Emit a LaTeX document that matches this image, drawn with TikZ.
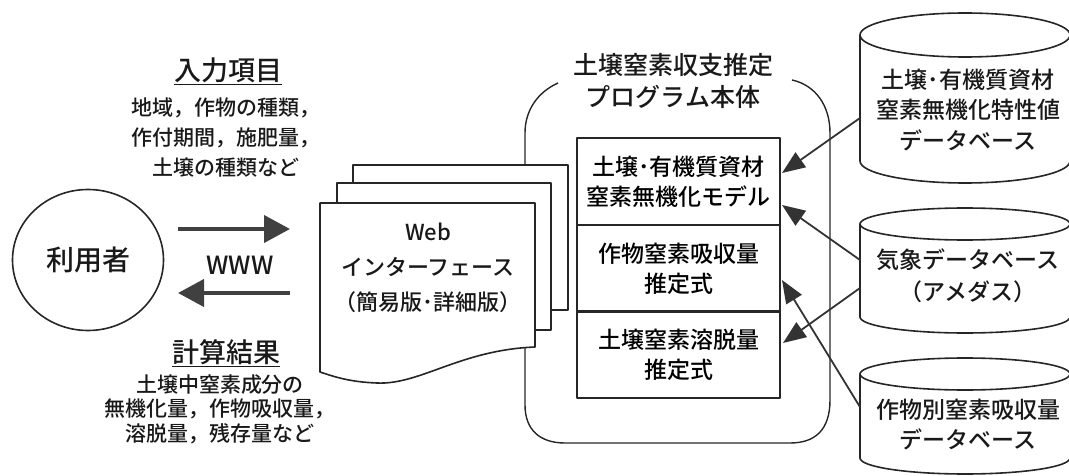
\documentclass[tikz,border=0pt]{standalone}
\usepackage{fontspec}
\setmainfont{Noto Sans CJK JP}[UprightFont={Noto Sans CJK JP Medium}]
\usetikzlibrary{arrows.meta,shapes.geometric}
\newcommand\dbcyl[3]{%
  \draw[outl,fill=white] (860,#1) -- (860,#2) arc[start angle=180,end angle=0,x radius=105,y radius=#3] -- (1070,#1);
  \draw[outl] (965,#1) ellipse[x radius=105,y radius=#3];}
\begin{document}
\begin{tikzpicture}[x=1pt,y=-1pt,line join=round,
  outl/.style={line width=1.6pt,draw=black!85},
  lbl/.style={align=center,inner sep=0pt,text=black!90},
  modbox/.style={outl,minimum width=203pt,minimum height=87pt,inner sep=0pt,align=center,font=\fontsize{23}{30}\selectfont},
  bigarr/.style={line width=4pt,draw=black!75,-{Triangle[length=26pt,width=27pt]}},
  dbarr/.style={line width=1.8pt,draw=black!80,-{Triangle[length=23pt,width=18pt]}}]
\useasboundingbox (0,0) rectangle (1069,476);

% user
\node[outl,ellipse,minimum width=151pt,minimum height=141pt,lbl,font=\fontsize{28}{34}\selectfont] (user) at (88,260) {利用者};

% arrows WWW
\coordinate (ra) at (178,229); \coordinate (rb) at (290,229);
\coordinate (la) at (290,293); \coordinate (lb) at (178,293);
\draw[bigarr] (ra) -- (rb);
\draw[bigarr] (la) -- (lb);
\node[lbl,font=\fontsize{25}{30}\selectfont] (www) at (240,265) {WWW};

% input
\node[lbl,font=\fontsize{27}{32}\selectfont] (inhead) at (228,71) {\underline{入力項目}};
\node[lbl,font=\fontsize{21}{30}\selectfont] (intext) at (226,138) {地域，作物の種類，\\作付期間，施肥量，\\土壌の種類など};

% output
\node[lbl,font=\fontsize{27}{32}\selectfont] (outhead) at (226,353) {\underline{計算結果}};
\node[lbl,font=\fontsize{21}{24.5}\selectfont] (outtext) at (220,409) {土壌中窒素成分の\\無機化量，作物吸収量，\\溶脱量，残存量など};

% program body outline
\draw[outl,line width=1.4pt] (558,83) .. controls (538,92) and (525,110) .. (525,133) -- (525,405)
  .. controls (525,430) and (540,443) .. (565,443) -- (790,443)
  .. controls (815,443) and (830,430) .. (830,400) -- (830,133)
  .. controls (830,105) and (815,85) .. (792,80);
\node[lbl,font=\fontsize{25}{32}\selectfont] (title) at (673,81) {土壌窒素収支推定\\プログラム本体};

% web pages
\draw[outl,fill=white] (353,165) rectangle (568,310);
\draw[outl,fill=white] (337,183) rectangle (551,330);
\draw[outl,fill=white] (320,203) -- (535,203) -- (535,347)
  .. controls (460,350) and (420,385) .. (377,383)
  .. controls (350,382) and (335,377) .. (320,372) -- cycle;
\node[lbl,font=\fontsize{22}{35}\selectfont] (web) at (428,268) {Web\\インターフェース\\（簡易版･詳細版）};

% modules
\node[modbox] (m1) at (678.5,181.5) {土壌･有機質資材\\窒素無機化モデル};
\node[modbox] (m2) at (678.5,268.5) {作物窒素吸収量\\推定式};
\node[modbox] (m3) at (678.5,354.5) {土壌窒素溶脱量\\推定式};

% databases
\dbcyl{35}{161}{22}
\dbcyl{224}{317}{16}
\dbcyl{374}{458}{16}
\node[lbl,font=\fontsize{23}{30.5}\selectfont] (db1) at (968,110) {土壌･有機質資材\\窒素無機化特性値\\データベース};
\node[lbl,font=\fontsize{23}{32}\selectfont] (db2) at (968,276) {気象データベース\\（アメダス）};
\node[lbl,font=\fontsize{23}{30}\selectfont] (db3) at (968,425) {作物別窒素吸収量\\データベース};

% db arrows
\coordinate (d1) at (860,118); \coordinate (t1) at (782,173);
\coordinate (d2a) at (860,260); \coordinate (t2) at (782,205);
\coordinate (d2b) at (860,288); \coordinate (t4) at (783,343);
\coordinate (d3) at (860,407); \coordinate (t3) at (782,280);
\draw[dbarr] (d1) -- (t1);
\draw[dbarr] (d2a) -- (t2);
\draw[dbarr] (d2b) -- (t4);
\draw[dbarr] (d3) -- (t3);
\end{tikzpicture}
\end{document}
